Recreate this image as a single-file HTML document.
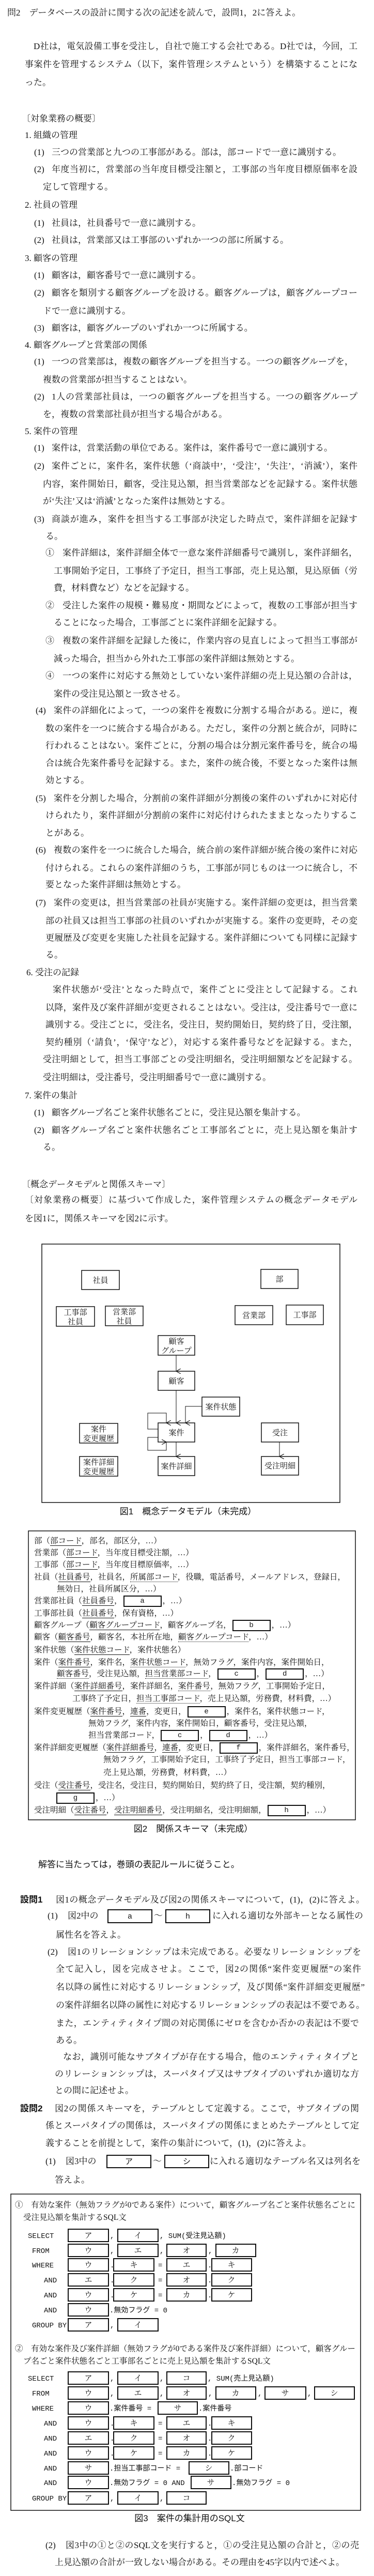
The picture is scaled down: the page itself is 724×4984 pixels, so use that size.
<!DOCTYPE html>
<html><head><meta charset="utf-8">
<style>
html,body{margin:0;padding:0;background:#fff;}
body{width:724px;height:4984px;position:relative;overflow:hidden;color:#111;
font-family:"Liberation Serif","Noto Serif CJK SC","Noto Serif CJK JP",serif;}
.t{position:absolute;white-space:nowrap;line-height:22px;font-size:17px;}
.f{text-align:justify;text-align-last:justify;white-space:normal;height:22px;overflow:hidden;}
.s{position:absolute;white-space:nowrap;line-height:22px;font-size:15.5px;}
.g{font-family:"Liberation Sans","Noto Sans CJK JP",sans-serif;}
.b{font-weight:bold;}
u{text-decoration:none;border-bottom:1.3px solid #111;}
i{font-style:normal;border-bottom:1.6px dotted #111;}
.bx{display:inline-block;width:70px;height:18px;border:2px solid #111;vertical-align:middle;text-align:center;line-height:18px;font-size:14px;font-family:"Liberation Mono",monospace;margin:0 2px;}
.cap{position:absolute;font-family:"Liberation Sans","Noto Sans CJK JP",sans-serif;font-size:17px;line-height:22px;white-space:nowrap;transform:translateX(-50%);}
</style></head><body>

<div class="t" style="left:14px;top:14px">問2　データベースの設計に関する次の記述を読んで，設問1，2に答えよ。</div>
<div class="t f" style="left:65px;top:79px;width:627px">D社は，電気設備工事を受注し，自社で施工する会社である。D社では，今回，工</div>
<div class="t f" style="left:48px;top:114px;width:644px">事案件を管理するシステム（以下，案件管理システムという）を構築することにな</div>
<div class="t" style="left:48px;top:149px">った。</div>
<div class="t" style="left:42px;top:219px">〔対象業務の概要〕</div>
<div class="t" style="left:48px;top:251px">1. 組織の管理</div>
<div class="t" style="left:66px;top:284px">(1)</div><div class="t" style="left:100px;top:284px">三つの営業部と九つの工事部がある。部は，部コードで一意に識別する。</div>
<div class="t" style="left:66px;top:317px">(2)</div><div class="t f" style="left:100px;top:317px;width:592px">年度当初に，営業部の当年度目標受注額と，工事部の当年度目標原価率を設</div>
<div class="t" style="left:83px;top:351px">定して管理する。</div>
<div class="t" style="left:48px;top:386px">2. 社員の管理</div>
<div class="t" style="left:66px;top:421px">(1)</div><div class="t" style="left:100px;top:421px">社員は，社員番号で一意に識別する。</div>
<div class="t" style="left:66px;top:454px">(2)</div><div class="t" style="left:100px;top:454px">社員は，営業部又は工事部のいずれか一つの部に所属する。</div>
<div class="t" style="left:48px;top:489px">3. 顧客の管理</div>
<div class="t" style="left:66px;top:522px">(1)</div><div class="t" style="left:100px;top:522px">顧客は，顧客番号で一意に識別する。</div>
<div class="t" style="left:66px;top:556px">(2)</div><div class="t f" style="left:100px;top:556px;width:592px">顧客を類別する顧客グループを設ける。顧客グループは，顧客グループコー</div>
<div class="t" style="left:83px;top:591px">ドで一意に識別する。</div>
<div class="t" style="left:66px;top:624px">(3)</div><div class="t" style="left:100px;top:624px">顧客は，顧客グループのいずれか一つに所属する。</div>
<div class="t" style="left:48px;top:657px">4. 顧客グループと営業部の関係</div>
<div class="t" style="left:66px;top:689px">(1)</div><div class="t f" style="left:100px;top:689px;width:584px">一つの営業部は，複数の顧客グループを担当する。一つの顧客グループを，</div>
<div class="t" style="left:83px;top:724px">複数の営業部が担当することはない。</div>
<div class="t" style="left:66px;top:757px">(2)</div><div class="t f" style="left:100px;top:757px;width:592px">1人の営業部社員は，一つの顧客グループを担当する。一つの顧客グループ</div>
<div class="t" style="left:83px;top:791px">を，複数の営業部社員が担当する場合がある。</div>
<div class="t" style="left:48px;top:824px">5. 案件の管理</div>
<div class="t" style="left:66px;top:856px">(1)</div><div class="t" style="left:100px;top:856px">案件は，営業活動の単位である。案件は，案件番号で一意に識別する。</div>
<div class="t" style="left:66px;top:891px">(2)</div><div class="t f" style="left:100px;top:891px;width:592px">案件ごとに，案件名，案件状態（‘商談中’，‘受注’，‘失注’，‘消滅’），案件</div>
<div class="t f" style="left:83px;top:926px;width:609px">内容，案件開始日，顧客，受注見込額，担当営業部などを記録する。案件状態</div>
<div class="t" style="left:83px;top:959px">が‘失注’又は‘消滅’となった案件は無効とする。</div>
<div class="t" style="left:66px;top:994px">(3)</div><div class="t f" style="left:100px;top:994px;width:592px">商談が進み，案件を担当する工事部が決定した時点で，案件詳細を記録す</div>
<div class="t" style="left:88px;top:1027px">る。</div>
<div class="t" style="left:88px;top:1059px">①</div><div class="t f" style="left:121px;top:1059px;width:571px">案件詳細は，案件詳細全体で一意な案件詳細番号で識別し，案件詳細名，</div>
<div class="t f" style="left:104px;top:1094px;width:588px">工事開始予定日，工事終了予定日，担当工事部，売上見込額，見込原価（労務</div>
<div class="t" style="left:104px;top:1127px">費，材料費など）などを記録する。</div>
<div class="t" style="left:88px;top:1161px">②</div><div class="t f" style="left:121px;top:1161px;width:571px">受注した案件の規模・難易度・期間などによって，複数の工事部が担当す</div>
<div class="t" style="left:104px;top:1194px">ることになった場合，工事部ごとに案件詳細を記録する。</div>
<div class="t" style="left:88px;top:1229px">③</div><div class="t f" style="left:121px;top:1229px;width:571px">複数の案件詳細を記録した後に，作業内容の見直しによって担当工事部が</div>
<div class="t" style="left:104px;top:1264px">減った場合，担当から外れた工事部の案件詳細は無効とする。</div>
<div class="t" style="left:88px;top:1297px">④</div><div class="t f" style="left:121px;top:1297px;width:571px">一つの案件に対応する無効としていない案件詳細の売上見込額の合計は，</div>
<div class="t" style="left:104px;top:1332px">案件の受注見込額と一致させる。</div>
<div class="t" style="left:69px;top:1364px">(4)</div><div class="t f" style="left:104px;top:1364px;width:588px">案件の詳細化によって，一つの案件を複数に分割する場合がある。逆に，複</div>
<div class="t f" style="left:88px;top:1399px;width:604px">数の案件を一つに統合する場合がある。ただし，案件の分割と統合が，同時に</div>
<div class="t f" style="left:88px;top:1432px;width:604px">行われることはない。案件ごとに，分割の場合は分割元案件番号を，統合の場</div>
<div class="t f" style="left:88px;top:1466px;width:604px">合は統合先案件番号を記録する。また，案件の統合後，不要となった案件は無</div>
<div class="t" style="left:88px;top:1499px">効とする。</div>
<div class="t" style="left:69px;top:1534px">(5)</div><div class="t f" style="left:104px;top:1534px;width:588px">案件を分割した場合，分割前の案件詳細が分割後の案件のいずれかに対応付</div>
<div class="t f" style="left:88px;top:1567px;width:604px">けられたり，案件詳細が分割前の案件に対応付けられたままとなったりするこ</div>
<div class="t" style="left:88px;top:1601px">とがある。</div>
<div class="t" style="left:69px;top:1634px">(6)</div><div class="t f" style="left:104px;top:1634px;width:588px">複数の案件を一つに統合した場合，統合前の案件詳細が統合後の案件に対応</div>
<div class="t f" style="left:88px;top:1669px;width:604px">付けられる。これらの案件詳細のうち，工事部が同じものは一つに統合し，不</div>
<div class="t" style="left:88px;top:1701px">要となった案件詳細は無効とする。</div>
<div class="t" style="left:69px;top:1736px">(7)</div><div class="t f" style="left:104px;top:1736px;width:588px">案件の変更は，担当営業部の社員が実施する。案件詳細の変更は，担当営業</div>
<div class="t f" style="left:88px;top:1771px;width:604px">部の社員又は担当工事部の社員のいずれかが実施する。案件の変更時，その変</div>
<div class="t f" style="left:88px;top:1804px;width:604px">更履歴及び変更を実施した社員を記録する。案件詳細についても同様に記録す</div>
<div class="t" style="left:88px;top:1837px">る。</div>
<div class="t" style="left:51px;top:1871px">6. 受注の記録</div>
<div class="t f" style="left:102px;top:1904px;width:590px">案件状態が‘受注’となった時点で，案件ごとに受注として記録する。これ</div>
<div class="t f" style="left:88px;top:1939px;width:604px">以降，案件及び案件詳細が変更されることはない。受注は，受注番号で一意に</div>
<div class="t f" style="left:88px;top:1972px;width:604px">識別する。受注ごとに，受注名，受注日，契約開始日，契約終了日，受注額，</div>
<div class="t f" style="left:88px;top:2006px;width:604px">契約種別（‘請負’，‘保守’など），対応する案件番号などを記録する。また，</div>
<div class="t f" style="left:83px;top:2039px;width:609px">受注明細として，担当工事部ごとの受注明細名，受注明細額などを記録する。</div>
<div class="t" style="left:83px;top:2074px">受注明細は，受注番号，受注明細番号で一意に識別する。</div>
<div class="t" style="left:48px;top:2109px">7. 案件の集計</div>
<div class="t" style="left:66px;top:2142px">(1)</div><div class="t" style="left:100px;top:2142px">顧客グループ名ごと案件状態名ごとに，受注見込額を集計する。</div>
<div class="t" style="left:66px;top:2176px">(2)</div><div class="t f" style="left:100px;top:2176px;width:592px">顧客グループ名ごと案件状態名ごと工事部名ごとに，売上見込額を集計す</div>
<div class="t" style="left:83px;top:2209px">る。</div>
<div class="t" style="left:42px;top:2281px">〔概念データモデルと関係スキーマ〕</div>
<div class="t f" style="left:48px;top:2311px;width:644px">〔対象業務の概要〕に基づいて作成した，案件管理システムの概念データモデル</div>
<div class="t" style="left:48px;top:2347px">を図1に，関係スキーマを図2に示す。</div>

<svg style="position:absolute;left:0;top:0" width="724" height="4984" xmlns="http://www.w3.org/2000/svg">
<defs><marker id="ar" markerWidth="10" markerHeight="10" refX="5" refY="9" orient="auto-start-reverse" markerUnits="userSpaceOnUse" viewBox="0 0 10 10">
<path d="M0,0 L5,9 L10,0" fill="none" stroke="#111" stroke-width="1.2"/></marker></defs>
<g fill="none" stroke="#111" stroke-width="1.5">
<rect x="81" y="2407" width="577" height="500"/>
<rect x="158" y="2458" width="73" height="37"/>
<rect x="505" y="2456" width="72" height="37"/>
<rect x="109" y="2528" width="74" height="38"/>
<rect x="204" y="2527" width="73" height="38"/>
<rect x="455" y="2526" width="73" height="37"/>
<rect x="554" y="2525" width="72" height="38"/>
<rect x="306" y="2584" width="71" height="38"/>
<rect x="306" y="2653" width="71" height="37"/>
<rect x="391" y="2703" width="73" height="37"/>
<rect x="306" y="2753" width="71" height="37"/>
<rect x="154" y="2754" width="74" height="38"/>
<rect x="154" y="2818" width="74" height="38"/>
<rect x="306" y="2818" width="71" height="37"/>
<rect x="506" y="2753" width="72" height="37"/>
<rect x="506" y="2818" width="72" height="36"/>
</g>
<g fill="none" stroke="#111" stroke-width="1">
<path d="M341,2622 L341,2653" marker-end="url(#ar)"/>
<path d="M341,2690 L341,2753" marker-end="url(#ar)"/>
<path d="M391,2721 L359,2721 L359,2753" marker-end="url(#ar)"/>
<path d="M306,2765 L286,2765 L286,2734 L322,2734 L322,2753" marker-end="url(#ar)"/>
<path d="M306,2781 L286,2781 L286,2806 L322,2806 L322,2790" marker-end="url(#ar)"/>
<path d="M341,2790 L341,2818" marker-end="url(#ar)"/>
<path d="M541,2790 L541,2818" marker-end="url(#ar)"/>
</g>
<g font-family="Liberation Serif,Noto Serif CJK SC,serif" font-size="15" fill="#111" text-anchor="middle">
<text x="194.5" y="2482">社員</text>
<text x="541" y="2480">部</text>
<text x="146" y="2544">工事部</text><text x="146" y="2562">社員</text>
<text x="240.5" y="2543">営業部</text><text x="240.5" y="2561">社員</text>
<text x="491.5" y="2550">営業部</text>
<text x="590" y="2549">工事部</text>
<text x="341.5" y="2600">顧客</text><text x="341.5" y="2618">グループ</text>
<text x="341.5" y="2677">顧客</text>
<text x="427.5" y="2727">案件状態</text>
<text x="341.5" y="2777">案件</text>
<text x="191" y="2770">案件</text><text x="191" y="2788">変更履歴</text>
<text x="191" y="2834">案件詳細</text><text x="191" y="2852">変更履歴</text>
<text x="341.5" y="2842">案件詳細</text>
<text x="542" y="2777">受注</text>
<text x="542" y="2841">受注明細</text>
</g>

<rect x="55" y="2962" width="633" height="559" fill="none" stroke="#111" stroke-width="1.5"/>

<g fill="none" stroke="#111" stroke-width="2">
<rect x="209" y="3695" width="85" height="25"/><rect x="321" y="3695" width="85" height="25"/>
<rect x="207" y="4170" width="85" height="24"/><rect x="319" y="4170" width="85" height="24"/>
</g>
<g font-family="Liberation Mono,Noto Sans CJK JP,monospace" font-size="15" fill="#111" text-anchor="middle">
<text x="251.5" y="3712">a</text><text x="363.5" y="3712">h</text>
<text x="249.5" y="4187">ア</text><text x="361.5" y="4187">シ</text>
</g>

<rect x="21" y="4245" width="677" height="612" fill="none" stroke="#111" stroke-width="1.5"/>
<g fill="#fff" stroke="#111" stroke-width="2">
<rect x="132" y="4313" width="78" height="24"/><rect x="228" y="4313" width="78" height="24"/>
<rect x="132" y="4342" width="78" height="24"/><rect x="228" y="4342" width="78" height="24"/><rect x="323" y="4342" width="76" height="24"/><rect x="418" y="4342" width="77" height="24"/>
<rect x="132" y="4370" width="78" height="24"/><rect x="220" y="4370" width="78" height="24"/><rect x="323" y="4370" width="76" height="24"/><rect x="410" y="4370" width="77" height="24"/>
<rect x="132" y="4399" width="78" height="24"/><rect x="220" y="4399" width="78" height="24"/><rect x="323" y="4399" width="76" height="24"/><rect x="410" y="4399" width="77" height="24"/>
<rect x="132" y="4428" width="78" height="24"/><rect x="220" y="4428" width="78" height="24"/><rect x="323" y="4428" width="76" height="24"/><rect x="410" y="4428" width="77" height="24"/>
<rect x="132" y="4457" width="78" height="24"/>
<rect x="132" y="4486" width="78" height="24"/><rect x="228" y="4486" width="78" height="24"/>
<rect x="132" y="4589" width="78" height="24"/><rect x="228" y="4589" width="78" height="24"/><rect x="323" y="4589" width="76" height="24"/>
<rect x="132" y="4618" width="78" height="24"/><rect x="228" y="4618" width="78" height="24"/><rect x="323" y="4618" width="76" height="24"/><rect x="418" y="4618" width="77" height="24"/><rect x="513" y="4618" width="79" height="24"/><rect x="609" y="4618" width="77" height="24"/>
<rect x="132" y="4647" width="78" height="24"/><rect x="306" y="4647" width="76" height="24"/>
<rect x="132" y="4676" width="78" height="24"/><rect x="220" y="4676" width="78" height="24"/><rect x="323" y="4676" width="76" height="24"/><rect x="410" y="4676" width="77" height="24"/>
<rect x="132" y="4705" width="78" height="24"/><rect x="220" y="4705" width="78" height="24"/><rect x="323" y="4705" width="76" height="24"/><rect x="410" y="4705" width="77" height="24"/>
<rect x="132" y="4734" width="78" height="24"/><rect x="220" y="4734" width="78" height="24"/><rect x="323" y="4734" width="76" height="24"/><rect x="410" y="4734" width="77" height="24"/>
<rect x="132" y="4763" width="78" height="24"/><rect x="366" y="4763" width="77" height="24"/>
<rect x="132" y="4791" width="78" height="24"/><rect x="370" y="4791" width="77" height="24"/>
<rect x="132" y="4821" width="78" height="24"/><rect x="228" y="4821" width="78" height="24"/><rect x="323" y="4821" width="76" height="24"/>
</g>
<g font-family="Liberation Serif,Noto Serif CJK SC,serif" font-size="15" fill="#111" text-anchor="middle">
<text x="171" y="4330">ア</text><text x="267" y="4330">イ</text>
<text x="171" y="4359">ウ</text><text x="267" y="4359">エ</text><text x="361" y="4359">オ</text><text x="456" y="4359">カ</text>
<text x="171" y="4387">ウ</text><text x="259" y="4387">キ</text><text x="361" y="4387">エ</text><text x="448" y="4387">キ</text>
<text x="171" y="4416">エ</text><text x="259" y="4416">ク</text><text x="361" y="4416">オ</text><text x="448" y="4416">ク</text>
<text x="171" y="4445">ウ</text><text x="259" y="4445">ケ</text><text x="361" y="4445">カ</text><text x="448" y="4445">ケ</text>
<text x="171" y="4474">ウ</text>
<text x="171" y="4503">ア</text><text x="267" y="4503">イ</text>
<text x="171" y="4606">ア</text><text x="267" y="4606">イ</text><text x="361" y="4606">コ</text>
<text x="171" y="4635">ウ</text><text x="267" y="4635">エ</text><text x="361" y="4635">オ</text><text x="456" y="4635">カ</text><text x="552" y="4635">サ</text><text x="647" y="4635">シ</text>
<text x="171" y="4664">ウ</text><text x="344" y="4664">サ</text>
<text x="171" y="4693">ウ</text><text x="259" y="4693">キ</text><text x="361" y="4693">エ</text><text x="448" y="4693">キ</text>
<text x="171" y="4722">エ</text><text x="259" y="4722">ク</text><text x="361" y="4722">オ</text><text x="448" y="4722">ク</text>
<text x="171" y="4751">ウ</text><text x="259" y="4751">ケ</text><text x="361" y="4751">カ</text><text x="448" y="4751">ケ</text>
<text x="171" y="4780">サ</text><text x="404" y="4780">シ</text>
<text x="171" y="4808">ウ</text><text x="408" y="4808">サ</text>
<text x="171" y="4838">ア</text><text x="267" y="4838">イ</text><text x="361" y="4838">コ</text>
</g>
<g font-family="Liberation Mono,Noto Sans CJK JP,monospace" font-size="14" fill="#111">
<text x="54" y="4330">SELECT</text><text x="213" y="4330">,</text><text x="309" y="4330">, SUM(受注見込額)</text>
<text x="62" y="4359">FROM</text><text x="213" y="4359">,</text><text x="309" y="4359">,</text><text x="403" y="4359">,</text>
<text x="62" y="4387">WHERE</text><text x="213" y="4387">.</text><text x="306" y="4387">=</text><text x="402" y="4387">.</text>
<text x="85" y="4416">AND</text><text x="213" y="4416">.</text><text x="306" y="4416">=</text><text x="402" y="4416">.</text>
<text x="85" y="4445">AND</text><text x="213" y="4445">.</text><text x="306" y="4445">=</text><text x="402" y="4445">.</text>
<text x="85" y="4474">AND</text><text x="212" y="4474">.無効フラグ = 0</text>
<text x="62" y="4503">GROUP BY</text><text x="213" y="4503">,</text>
<text x="54" y="4606">SELECT</text><text x="213" y="4606">,</text><text x="309" y="4606">,</text><text x="402" y="4606">, SUM(売上見込額)</text>
<text x="62" y="4635">FROM</text><text x="213" y="4635">,</text><text x="309" y="4635">,</text><text x="403" y="4635">,</text><text x="499" y="4635">,</text><text x="595" y="4635">,</text>
<text x="62" y="4664">WHERE</text><text x="212" y="4664">.案件番号 =</text><text x="384" y="4664">.案件番号</text>
<text x="85" y="4693">AND</text><text x="213" y="4693">.</text><text x="306" y="4693">=</text><text x="402" y="4693">.</text>
<text x="85" y="4722">AND</text><text x="213" y="4722">.</text><text x="306" y="4722">=</text><text x="402" y="4722">.</text>
<text x="85" y="4751">AND</text><text x="213" y="4751">.</text><text x="306" y="4751">=</text><text x="402" y="4751">.</text>
<text x="85" y="4780">AND</text><text x="212" y="4780">.担当工事部コード =</text><text x="445" y="4780">.部コード</text>
<text x="85" y="4808">AND</text><text x="212" y="4808">.無効フラグ = 0 AND</text><text x="449" y="4808">.無効フラグ = 0</text>
<text x="62" y="4838">GROUP BY</text><text x="213" y="4838">,</text><text x="309" y="4838">,</text>
</g>
</svg>

<div class="cap" style="left:364px;top:2914px">図1　概念データモデル（未完成）</div>

<div class="s" style="left:66px;top:2971px">部（<u>部コード</u>，部名，部区分，…）</div>
<div class="s" style="left:66px;top:2994px">営業部（<u>部コード</u>，当年度目標受注額，…）</div>
<div class="s" style="left:66px;top:3017px">工事部（<u>部コード</u>，当年度目標原価率，…）</div>
<div class="s" style="left:66px;top:3041px">社員（<u>社員番号</u>，社員名，<i>所属部コード</i>，役職，電話番号，メールアドレス，登録日，</div>
<div class="s" style="left:110px;top:3064px">無効日，社員所属区分，…）</div>
<div class="s" style="left:66px;top:3087px">営業部社員（<u>社員番号</u>，<span class="bx">a</span>，…）</div>
<div class="s" style="left:66px;top:3111px">工事部社員（<u>社員番号</u>，保有資格，…）</div>
<div class="s" style="left:66px;top:3134px">顧客グループ（<u>顧客グループコード</u>，顧客グループ名，<span class="bx">b</span>，…）</div>
<div class="s" style="left:66px;top:3157px">顧客（<u>顧客番号</u>，顧客名，本社所在地，<i>顧客グループコード</i>，…）</div>
<div class="s" style="left:66px;top:3182px">案件状態（<u>案件状態コード</u>，案件状態名）</div>
<div class="s" style="left:66px;top:3206px">案件（<u>案件番号</u>，案件名，<i>案件状態コード</i>，無効フラグ，案件内容，案件開始日，</div>
<div class="s" style="left:110px;top:3228px"><i>顧客番号</i>，受注見込額，<i>担当営業部コード</i>，<span class="bx">c</span>，<span class="bx">d</span>，…）</div>
<div class="s" style="left:66px;top:3252px">案件詳細（<u>案件詳細番号</u>，案件詳細名，<i>案件番号</i>，無効フラグ，工事開始予定日，</div>
<div class="s" style="left:140px;top:3276px">工事終了予定日，<i>担当工事部コード</i>，売上見込額，労務費，材料費，…）</div>
<div class="s" style="left:66px;top:3301px">案件変更履歴（<u>案件番号</u>，<u>連番</u>，変更日，<span class="bx">e</span>，案件名，案件状態コード，</div>
<div class="s" style="left:171px;top:3324px">無効フラグ，案件内容，案件開始日，顧客番号，受注見込額，</div>
<div class="s" style="left:171px;top:3347px">担当営業部コード，<span class="bx">c</span>，<span class="bx">d</span>，…）</div>
<div class="s" style="left:66px;top:3371px">案件詳細変更履歴（<u>案件詳細番号</u>，<u>連番</u>，変更日，<span class="bx">f</span>，案件詳細名，案件番号，</div>
<div class="s" style="left:200px;top:3394px">無効フラグ，工事開始予定日，工事終了予定日，担当工事部コード，</div>
<div class="s" style="left:200px;top:3419px">売上見込額，労務費，材料費，…）</div>
<div class="s" style="left:66px;top:3444px">受注（<u>受注番号</u>，受注名，受注日，契約開始日，契約終了日，受注額，契約種別，</div>
<div class="s" style="left:107px;top:3468px"><span class="bx">g</span>，…）</div>
<div class="s" style="left:66px;top:3492px">受注明細（<u>受注番号</u>，<u>受注明細番号</u>，受注明細名，受注明細額，<span class="bx">h</span>，…）</div>
<div class="cap" style="left:374px;top:3528px">図2　関係スキーマ（未完成）</div>

<div class="t g" style="left:74px;top:3597px">解答に当たっては，巻頭の表記ルールに従うこと。</div>
<div class="t g b" style="left:39px;top:3665px">設問1</div><div class="t f" style="left:108px;top:3665px;width:598px">図1の概念データモデル及び図2の関係スキーマについて，(1)，(2)に答えよ。</div>
<div class="t" style="left:92px;top:3696px">(1)</div><div class="t" style="left:131px;top:3696px">図2中の</div><div class="t" style="left:298px;top:3696px">～</div>
<div class="t f" style="left:411px;top:3696px;width:292px">に入れる適切な外部キーとなる属性の</div>
<div class="t" style="left:108px;top:3733px">属性名を答えよ。</div>
<div class="t" style="left:92px;top:3766px">(2)</div><div class="t f" style="left:131px;top:3766px;width:568px">図1のリレーションシップは未完成である。必要なリレーションシップを</div>
<div class="t f" style="left:108px;top:3799px;width:591px">全て記入し，図を完成させよ。ここで，図2の関係“案件変更履歴”の案件</div>
<div class="t f" style="left:108px;top:3834px;width:598px">名以降の属性に対応するリレーションシップ，及び関係“案件詳細変更履歴”</div>
<div class="t f" style="left:108px;top:3869px;width:598px">の案件詳細名以降の属性に対応するリレーションシップの表記は不要である。</div>
<div class="t f" style="left:108px;top:3904px;width:587px">また，エンティティタイプ間の対応関係にゼロを含むか否かの表記は不要で</div>
<div class="t" style="left:108px;top:3937px">ある。</div>
<div class="t f" style="left:122px;top:3969px;width:573px">なお，識別可能なサブタイプが存在する場合，他のエンティティタイプと</div>
<div class="t f" style="left:106px;top:4002px;width:589px">のリレーションシップは，スーパタイプ又はサブタイプのいずれか適切な方</div>
<div class="t" style="left:106px;top:4034px">との間に記述せよ。</div>
<div class="t g b" style="left:39px;top:4069px">設問2</div><div class="t f" style="left:106px;top:4069px;width:589px">図2の関係スキーマを，テーブルとして定義する。ここで，サブタイプの関</div>
<div class="t f" style="left:88px;top:4102px;width:607px">係とスーパタイプの関係は，スーパタイプの関係にまとめたテーブルとして定</div>
<div class="t" style="left:88px;top:4136px">義することを前提として，案件の集計について，(1)，(2)に答えよ。</div>
<div class="t" style="left:88px;top:4171px">(1)</div><div class="t" style="left:127px;top:4171px">図3中の</div><div class="t" style="left:296px;top:4171px">～</div>
<div class="t f" style="left:406px;top:4171px;width:292px">に入れる適切なテーブル名又は列名を</div>
<div class="t" style="left:106px;top:4207px">答えよ。</div>

<div class="s" style="left:29px;top:4256px">①</div>
<div class="s f" style="left:60px;top:4256px;width:628px">有効な案件（無効フラグが0である案件）について，顧客グループ名ごと案件状態名ごとに</div>
<div class="s" style="left:45px;top:4280px">受注見込額を集計するSQL文</div>
<div class="s" style="left:29px;top:4534px">②</div>
<div class="s f" style="left:60px;top:4534px;width:628px">有効な案件及び案件詳細（無効フラグが0である案件及び案件詳細）について，顧客グルー</div>
<div class="s" style="left:45px;top:4558px">プ名ごと案件状態名ごと工事部名ごとに売上見込額を集計するSQL文</div>
<div class="cap" style="left:367px;top:4862px">図3　案件の集計用のSQL文</div>

<div class="t" style="left:88px;top:4914px">(2)</div><div class="t f" style="left:127px;top:4914px;width:568px">図3中の①と②のSQL文を実行すると，①の受注見込額の合計と，②の売</div>
<div class="t" style="left:106px;top:4947px">上見込額の合計が一致しない場合がある。その理由を45字以内で述べよ。</div>
</body></html>
